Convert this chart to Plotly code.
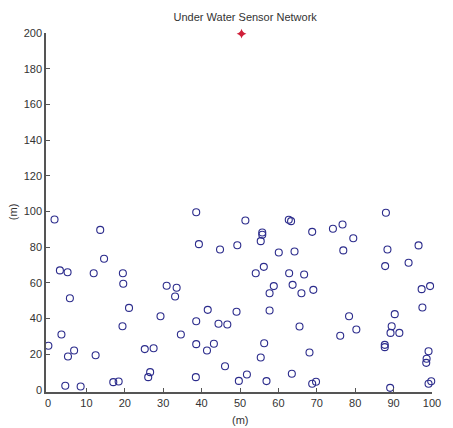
import plotly.graph_objects as go

# Sensor node positions (m)
sensor_x = [1.7, 13.6, 14.6, 3.1, 5.1, 11.9, 19.5, 19.6, 5.7, 21.1, 19.4, 3.5, 0.1, 6.8, 5.2, 12.4,
            25.2, 27.5, 26.6, 26.1, 4.5, 8.5, 17.0, 18.4, 30.9, 29.3, 33.5, 33.1,
            38.6, 39.3, 51.4, 62.7, 63.3, 55.8, 55.8, 55.4, 44.8, 49.3, 60.1, 64.2, 54.1, 56.2,
            62.8, 63.7, 58.8, 57.7, 66.0, 41.6, 49.1, 57.7, 38.6, 44.4, 46.7, 34.6, 65.5, 38.6,
            43.2, 41.4, 56.3, 55.4, 46.1, 38.5, 51.8, 49.7, 56.9, 63.5,
            88.0, 74.2, 76.7, 68.8, 79.5, 76.9, 88.4, 87.8, 93.9, 96.5, 66.7, 69.1, 97.3, 99.5,
            97.5, 78.4, 90.3, 80.3, 76.1, 89.5, 89.2, 91.5, 87.7, 87.7, 68.1, 99.1, 98.6, 98.5,
            68.8, 69.8, 89.1, 99.1, 99.8]
sensor_y = [95.5, 89.7, 73.5, 67.0, 66.0, 65.4, 65.4, 59.5, 51.4, 46.0, 35.7, 31.1, 24.8, 22.1, 18.8, 19.5,
            22.9, 23.4, 10.0, 7.2, 2.4, 2.0, 4.4, 4.8, 58.4, 41.3, 57.3, 52.4,
            99.6, 81.7, 95.0, 95.4, 94.6, 88.2, 87.0, 83.4, 78.7, 81.1, 77.0, 77.6, 65.4, 69.0,
            65.4, 58.9, 58.2, 54.2, 54.2, 44.9, 43.8, 44.5, 38.5, 37.1, 36.7, 31.1, 35.6, 25.7,
            25.9, 22.1, 26.2, 18.2, 13.3, 7.2, 8.7, 5.1, 5.0, 9.1,
            99.3, 90.3, 92.7, 88.6, 85.0, 78.2, 78.7, 69.4, 71.3, 81.0, 64.7, 56.1, 56.5, 58.2,
            46.2, 41.3, 42.5, 33.9, 30.4, 35.7, 32.0, 32.0, 25.3, 24.0, 21.0, 21.7, 17.5, 15.2,
            3.5, 4.6, 1.2, 3.5, 4.9]

# Sink node
sink_x = [50.4]
sink_y = [199.6]

x_ticks = [0, 10, 20, 30, 40, 50, 60, 70, 80, 90, 100]
y_ticks = [0, 20, 40, 60, 80, 100, 120, 140, 160, 180, 200]

font_family = "Liberation Sans, Arial, sans-serif"
text_color = "#333333"

fig = go.Figure()
fig.add_trace(go.Scatter(
    x=sensor_x, y=sensor_y, mode="markers",
    marker=dict(symbol="circle-open", size=7, color="#2c2c8c", line=dict(width=1.1)),
    cliponaxis=False, showlegend=False,
))
fig.add_trace(go.Scatter(
    x=sink_x, y=sink_y, mode="markers",
    marker=dict(symbol="star-diamond", size=7, color="#d0203a"),
    cliponaxis=False, showlegend=False,
))

axis_common = dict(
    showgrid=False, zeroline=False, showline=True, linecolor="#555555", linewidth=1.5,
    ticks="inside", ticklen=4, tickcolor="#555555",
    tickfont=dict(family=font_family, size=11, color=text_color),
    mirror=False,
)

fig.update_xaxes(range=[0, 100], tickvals=x_ticks, **axis_common)
fig.update_yaxes(range=[0, 200], tickvals=y_ticks, **axis_common)

fig.update_layout(
    width=445, height=420,
    margin=dict(l=40, r=12, t=25, b=38, pad=2),
    plot_bgcolor="white", paper_bgcolor="white",
    title=dict(text="Under Water Sensor Network", x=0.533, xanchor="center",
               y=1 - 9 / 420, yanchor="middle", yref="container",
               font=dict(family=font_family, size=11, color=text_color)),
    annotations=[
        dict(text="(m)", xref="paper", yref="paper", x=0.5, y=-0.083, xanchor="center", yanchor="middle",
             showarrow=False, font=dict(family=font_family, size=11, color=text_color)),
        dict(text="(m)", xref="paper", yref="paper", x=-0.092, y=0.5, xanchor="center", yanchor="middle",
             textangle=-90, showarrow=False, font=dict(family=font_family, size=11, color=text_color)),
    ],
)

fig.write_html("out.html")
